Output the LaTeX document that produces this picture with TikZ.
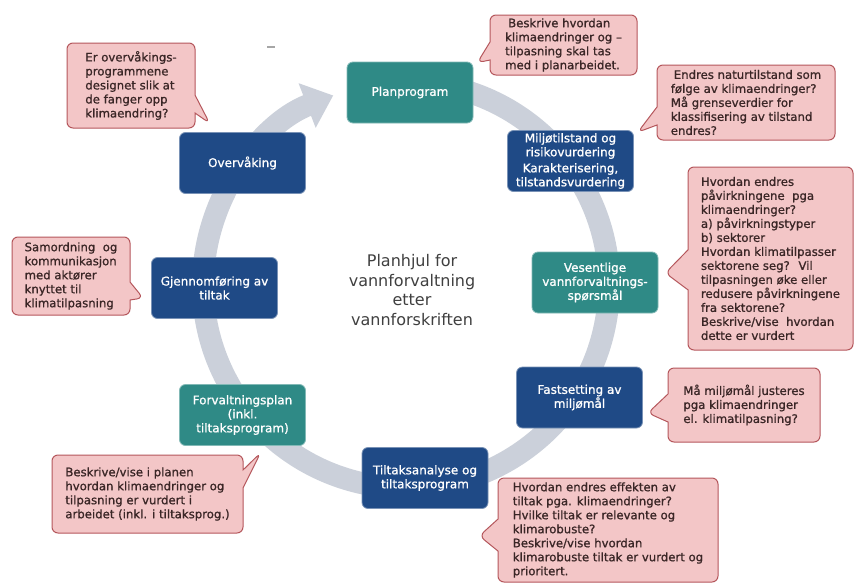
\documentclass[tikz,border=0pt]{standalone}
\usepackage{fontspec}
\setmainfont{DejaVu Sans}
\newfontfamily\tykkfont[FakeBold=1]{DejaVu Sans}
\usetikzlibrary{shapes.callouts,arrows.meta}

\definecolor{boksblaa}{HTML}{1F4A86}
\definecolor{boksgronn}{HTML}{2F8A86}
\definecolor{boblefyll}{HTML}{F3C6C7}
\definecolor{boblekant}{HTML}{B5575C}
\definecolor{bobletekst}{HTML}{3A2626}
\definecolor{ringgraa}{HTML}{CBD0DA}
\definecolor{midttekst}{HTML}{404040}

\tikzset{
  fase/.style={rectangle, rounded corners=6pt, minimum width=126pt, minimum height=61pt, inner sep=2pt, align=center, text=white, line width=0.8pt, font=\tykkfont\fontsize{12}{14}\selectfont},
  blaafase/.style={fase, fill=boksblaa, draw=boksblaa!60!white},
  gronnfase/.style={fase, fill=boksgronn, draw=boksgronn!60!white},
  boble/.style={rectangle callout, rounded corners=6pt, fill=boblefyll, draw=boblekant, line width=1pt, align=left, inner sep=0pt, text=bobletekst, callout pointer width=18pt, font=\tykkfont\fontsize{11.7}{14}\selectfont},
}

\begin{document}
\begin{tikzpicture}[x=1pt, y=-1pt]
\useasboundingbox[fill=white] (0,0) rectangle (854,584);

% ring
\draw[ringgraa, line width=22pt, -{Triangle[width=46pt,length=28pt]}] (406,285) ++(-80:203) arc[start angle=-80, end angle=249, radius=203];
\draw[gray!70, line width=1.2pt] (267,47)--(275,47);

% faser
\node[gronnfase] (plan) at (410,92.5) {Planprogram};
\node[blaafase] (milj) at (570.5,161) {Miljøtilstand og\\risikovurdering\\[2pt]Karakterisering,\\tilstandsvurdering};
\node[gronnfase] (vesn) at (595,282.5) {Vesentlige\\vannforvaltnings-\\spørsmål};
\node[blaafase] (fast) at (579.5,397.5) {Fastsetting av\\miljømål};
\node[blaafase] (tilt) at (425,478) {Tiltaksanalyse og\\tiltaksprogram};
\node[gronnfase] (forv) at (242.5,415) {Forvaltningsplan\\(inkl.\\tiltaksprogram)};
\node[blaafase] (gjen) at (214.5,288) {Gjennomføring av\\tiltak};
\node[blaafase] (over) at (242.5,163) {Overvåking};

\node[text=midttekst, align=center, font=\fontsize{16}{19.5}\selectfont] (tittel) at (412,290) {Planhjul for\\vannforvaltning\\etter\\vannforskriften};

% spisser
\coordinate (pPlan) at ([xshift=4pt,yshift=-1pt]plan.north east);
\coordinate (pMilj) at ([xshift=4pt,yshift=-2pt]milj.north east);
\coordinate (pVesn) at ([xshift=7pt,yshift=9.5pt]vesn.east);
\coordinate (pFast) at ([xshift=5pt,yshift=-15.5pt]fast.east);
\coordinate (pTilt) at ([xshift=-9pt,yshift=-27pt]tilt.south east);
\coordinate (pForv) at ([xshift=18pt,yshift=-7pt]forv.south);
\coordinate (pGjen) at ([xshift=-8pt,yshift=-10pt]gjen.west);
\coordinate (pOver) at ([xshift=-33pt,yshift=9pt]over.north);

% bobler
\node[boble, minimum width=147pt, minimum height=60pt, callout absolute pointer=(pPlan)] (bPlan) at (563.5,45) {\hspace*{3pt}Beskrive hvordan\\klimaendringer og –\\tilpasning skal tas\\med i planarbeidet.};
\node[boble, minimum width=178pt, minimum height=75pt, callout absolute pointer=(pMilj)] (bMilj) at (746,102.5) {\hspace*{3pt}Endres naturtilstand som\\følge av klimaendringer?\\Må grenseverdier for\\klassifisering av tilstand\\endres?};
\node[boble, minimum width=165pt, minimum height=183pt, callout pointer width=40pt, callout absolute pointer=(pVesn)] (bVesn) at (770.5,258.5) {Hvordan endres\\påvirkningene~ pga\\klimaendringer?\\a) påvirkningstyper\\b) sektorer\\Hvordan klimatilpasser\\sektorene seg?~ Vil\\tilpasningen øke eller\\redusere påvirkningene\\fra sektorene?\\Beskrive/vise~ hvordan\\dette er vurdert};
\node[boble, minimum width=152pt, minimum height=74pt, callout pointer width=28pt, callout absolute pointer=(pFast)] (bFast) at (744,405) {Må miljømål justeres\\pga klimaendringer\\el. klimatilpasning?};
\node[boble, minimum width=220pt, minimum height=104pt, callout pointer width=32pt, callout absolute pointer=(pTilt)] (bTilt) at (608,530) {Hvordan endres effekten av\\tiltak pga. klimaendringer?\\Hvilke tiltak er relevante og\\klimarobuste?\\Beskrive/vise hvordan\\klimarobuste tiltak er vurdert og\\prioritert.};
\node[boble, minimum width=191pt, minimum height=78pt, callout absolute pointer=(pForv)] (bForv) at (147.5,494) {Beskrive/vise i planen\\hvordan klimaendringer og\\tilpasning er vurdert i\\arbeidet (inkl. i tiltaksprog.)};
\node[boble, minimum width=118pt, minimum height=78pt, callout absolute pointer=(pGjen)] (bGjen) at (71,276) {Samordning~ og\\kommunikasjon\\med aktører\\knyttet til\\klimatilpasning};
\node[boble, minimum width=128pt, minimum height=85pt, callout absolute pointer=(pOver)] (bOver) at (131,85.5) {Er overvåkings-\\programmene\\designet slik at\\de fanger opp\\klimaendring?};

\end{tikzpicture}
\end{document}
